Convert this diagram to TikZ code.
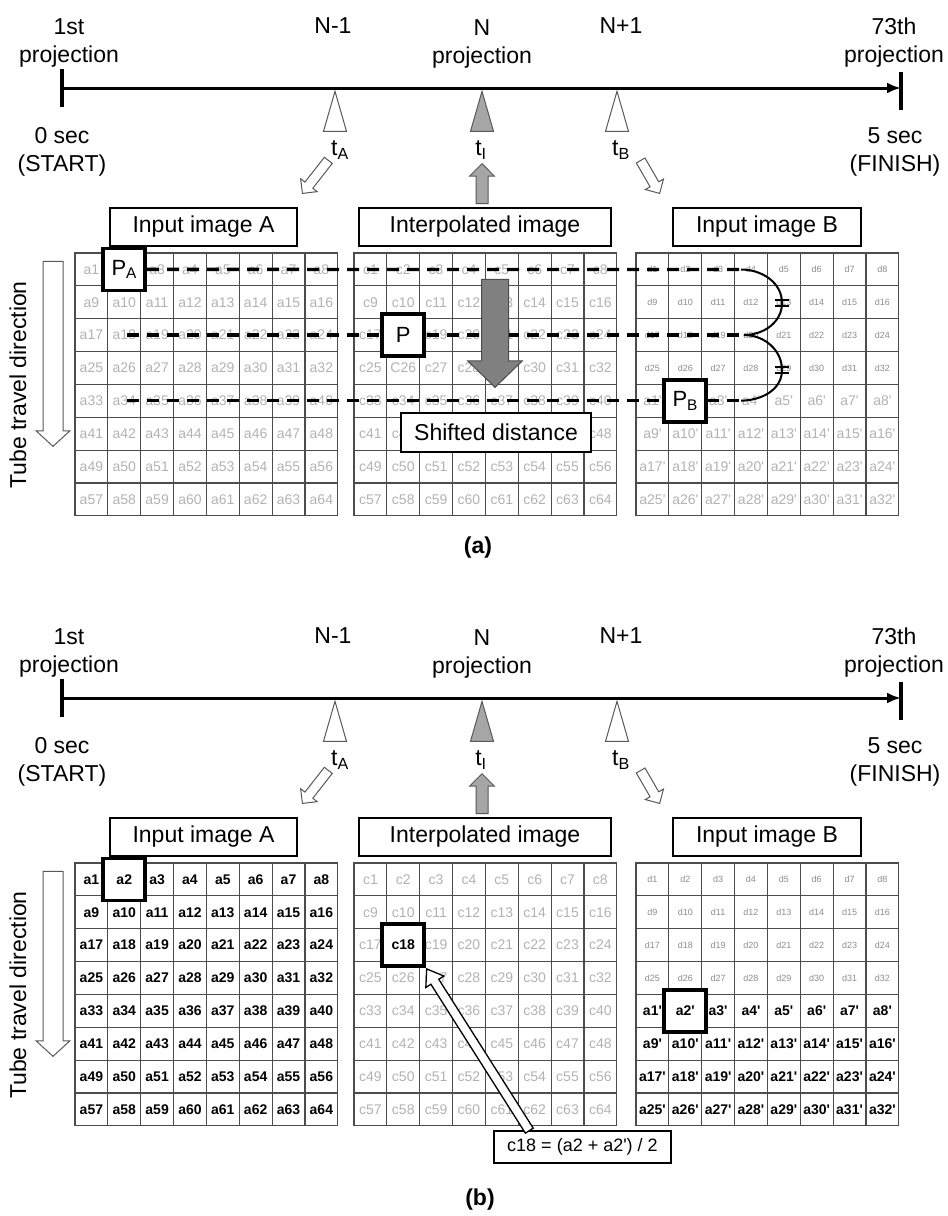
\documentclass[tikz,border=0pt]{standalone}
\usepackage{fontspec}
\setmainfont{Liberation Sans}
\usetikzlibrary{arrows.meta,positioning,calc,shapes.geometric,shapes.arrows}
\tikzset{
  cell/.style={draw=black!70,line width=1.1pt,minimum size=32.85pt,inner sep=0pt,text=black!30,font=\fontsize{14}{14}\selectfont},
  cellbold/.style={cell,text=black,font=\fontsize{14}{14}\selectfont\bfseries},
  celld/.style={cell,text=black!45,font=\fontsize{9}{9}\selectfont},
  title/.style={draw,line width=2.6pt,minimum height=38pt,inner sep=0pt,fill=white,font=\fontsize{23}{23}\selectfont},
  pick/.style={draw,line width=3.6pt,fill=white,minimum size=42pt,inner sep=0pt,text=black,font=\fontsize{22}{22}\selectfont},
  pickbold/.style={pick,font=\fontsize{14}{14}\selectfont\bfseries},
  lbl/.style={align=center,inner sep=0pt,font=\fontsize{23}{28}\selectfont},
  marker/.style={isosceles triangle,isosceles triangle stretches,shape border rotate=90,draw=black!65,line width=1pt,fill=white,minimum width=23pt,minimum height=40pt,inner sep=0pt,anchor=apex},
  hollow/.style={single arrow,draw=black!65,line width=1pt,fill=white,inner sep=0pt,text height=9pt,text depth=0pt,single arrow head extend=5.5pt,single arrow head indent=0pt,anchor=tip},
  dashline/.style={line width=3.4pt,dash pattern=on 12pt off 8pt},
  timeline/.style={line width=3pt,-{Latex[length=14pt,width=11pt]}},
  tick/.style={line width=3.5pt},
}
\begin{document}
\begin{tikzpicture}[x=1pt,y=-1pt]
\useasboundingbox (0,0) rectangle (948,1216);
\foreach \p/\dy/\sa in {a/0/cell,b/610/cellbold}{
  % time axis
  \coordinate (s\p) at (62,88+\dy);
  \coordinate (e\p) at (901,88+\dy);
  \draw[timeline] (s\p) -- (e\p);
  \draw[tick] ($(s\p)+(0,-19)$) -- ($(s\p)+(0,19)$);
  \draw[tick] ($(e\p)+(0,-16)$) -- ($(e\p)+(0,22)$);
  \node[lbl] (first\p) at (69,43+\dy) {1st\\projection};
  \node[lbl] (zero\p) at (62,152+\dy) {0 sec\\(START)};
  \node[lbl] (nm\p) at (333,26+\dy) {N-1};
  \node[lbl] (n\p) at (482,44+\dy) {N\\projection};
  \node[lbl] (np\p) at (621,26+\dy) {N+1};
  \node[lbl] (last\p) at (894,43+\dy) {73th\\projection};
  \node[lbl] (five\p) at (895,152+\dy) {5 sec\\(FINISH)};
  % time points
  \node[marker] (mA\p) at (335,90+\dy) {};
  \node[marker,fill=black!35] (mI\p) at (482,90+\dy) {};
  \node[marker] (mB\p) at (617,90+\dy) {};
  \node[lbl] (tA\p) at (340,150+\dy) {t\textsubscript{A}};
  \node[lbl] (tI\p) at (481,150+\dy) {t\textsubscript{I}};
  \node[lbl] (tB\p) at (621,150+\dy) {t\textsubscript{B}};
  \node[hollow,rotate=232,minimum height=42pt] (hA\p) at (302,194+\dy) {};
  \node[hollow,rotate=90,minimum height=40pt,text height=11pt,single arrow head extend=6.5pt,fill=black!35] (hI\p) at (482,163+\dy) {};
  \node[hollow,rotate=300,minimum height=38pt] (hB\p) at (660,194+\dy) {};
  % images
  \node[title,minimum width=187pt] (tiA\p) at (203.5,227+\dy) {Input image A};
  \node[title,minimum width=252pt] (tiC\p) at (485,227+\dy) {Interpolated image};
  \node[title,minimum width=188pt] (tiB\p) at (767,227+\dy) {Input image B};
  \node[rotate=90,font=\fontsize{23}{23}\selectfont] (dir\p) at (18,385+\dy) {Tube travel direction};
  \node[hollow,rotate=270,minimum height=185pt,text height=19pt,single arrow head extend=7pt,single arrow tip angle=95] (tube\p) at (53,447+\dy) {};
  \foreach \r in {0,...,7}
    \foreach \c in {0,...,7}{
      \pgfmathtruncatemacro\n{8*\r+\c+1}
      \pgfmathtruncatemacro\m{\n-32}
      \node[\sa] (A\p\r\c) at ({75+(\c+.5)*32.85},{253+\dy+(\r+.5)*32.85}) {a\n};
      \node[cell] (C\p\r\c) at ({354+(\c+.5)*32.85},{253+\dy+(\r+.5)*32.85}) {\ifnum\n=26 \if\p aC\else c\fi\else c\fi\n};
      \ifnum\r<4
        \node[celld] (B\p\r\c) at ({636+(\c+.5)*32.85},{253+\dy+(\r+.5)*32.85}) {d\n};
      \else
        \node[\sa] (B\p\r\c) at ({636+(\c+.5)*32.85},{253+\dy+(\r+.5)*32.85}) {a\m\textquotesingle};
      \fi
    }
}
% (a) shifted distance
\node[pick] (PA) at (Aa01) {P\textsubscript{A}};
\coordinate (r0) at (741,269.5);
\coordinate (r2s) at (127,335);
\coordinate (r2) at (744,335);
\coordinate (r4s) at (127,400.6);
\coordinate (r4) at (741,400.6);
\draw[dashline] (PA.east) -- (r0);
\draw[dashline] (r2s) -- (r2);
\draw[dashline] (r4s) -- (r4);
\node[pick] (P) at (Ca21) {P};
\node[pick] (PB) at (Ba41) {P\textsubscript{B}};
\coordinate (k1) at (782,303);
\coordinate (k2) at (782,370);
\draw[line width=2pt] (r0) to[out=0,in=90] (k1) to[out=-90,in=0] (r2) to[out=0,in=90] (k2) to[out=-90,in=0] (r4);
\draw[line width=1.8pt] ($(k1)+(-7,-3)$) -- ++(14,0) ($(k1)+(-7,3)$) -- ++(14,0);
\draw[line width=1.8pt] ($(k2)+(-7,-3)$) -- ++(14,0) ($(k2)+(-7,3)$) -- ++(14,0);
\node[hollow,rotate=270,minimum height=108pt,text height=26pt,single arrow head extend=14pt,single arrow tip angle=92,fill=black!50,draw=black!70] (shiftarrow) at (495,388) {};
\node[title,minimum width=190pt,minimum height=39pt] (sd) at (496,432.5) {Shifted distance};
\node[font=\fontsize{23}{23}\selectfont\bfseries] (capa) at (478,548) {(a)};
% (b) interpolation of c18
\node[pickbold] (pa2) at (Ab01) {a2};
\node[pickbold] (pc18) at (Cb21) {c18};
\node[pickbold] (pa2p) at (Bb41) {a2\textquotesingle};
\node[draw,line width=2.6pt,inner sep=0pt,minimum width=177pt,minimum height=32pt,fill=white,font=\fontsize{18}{18}\selectfont] (fx) at (582.5,1147) {c18 = (a2 + a2\textquotesingle) / 2};
\coordinate (ft) at ($(fx.north west)+(36,0)$);
\path let \p1=($(pc18.south east)-(ft)$) in node[hollow,draw=black,line width=1.3pt,text height=8pt,single arrow head extend=6pt,single arrow tip angle=70,rotate={atan2(\y1,\x1)},minimum height={veclen(\x1,\y1)}] (fa) at (pc18.south east) {};
\node[font=\fontsize{23}{23}\selectfont\bfseries] (capb) at (480,1200) {(b)};
\end{tikzpicture}
\end{document}
